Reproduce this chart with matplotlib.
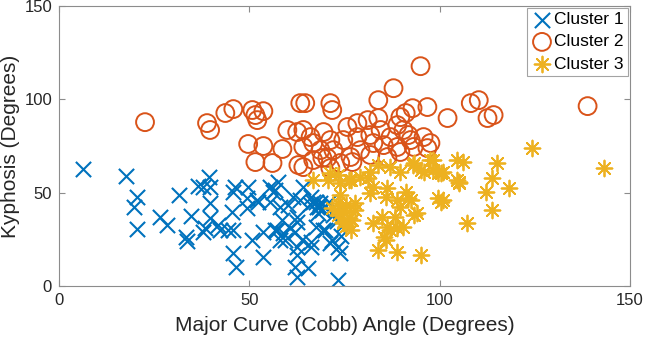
import matplotlib
matplotlib.use('Agg')
from matplotlib import pyplot as plt

# Cluster 1 (blue crosses)
c1_x = [6.3, 17.6, 20.5, 19.7, 20.5, 26.6, 28.4, 31.6, 34.7, 33.4, 33.7, 36.6, 37.9, 37.9,
        39.5, 39.7, 39.7, 39.7, 38.4, 41.8, 42.4, 44.5, 45.8, 45.5, 45.8, 45.8, 46.6, 49.7,
        49.5, 49.5, 53.7, 50.8, 53.7, 55.5, 57.6, 56.8, 52.4, 55.5, 58.2, 60.3, 58.7, 56.8,
        58.9, 60.8, 58.2, 62.6, 63.4, 64.2, 63.9, 66.1, 66.1, 62.1, 62.6, 65.5, 66.1, 66.8,
        67.9, 68.7, 67.4, 69.5, 71.8, 73.2, 73.9, 73.2, 52.1, 56.3, 61.6, 69.2, 62.6, 59.5,
        57.4, 62.1, 70.0, 62.6, 71.3, 62.6, 46.3, 68.2, 67.4,
        66.0, 69.0, 70.0, 71.0, 68.0, 72.0, 73.0, 75.0, 74.0]
c1_y = [62.7, 58.9, 47.7, 42.3, 30.5, 37.0, 32.7, 48.7, 37.5, 26.2, 24.1, 53.6, 53.0, 28.9,
        58.4, 53.0, 44.5, 36.4, 31.1, 32.7, 30.0, 30.0, 50.3, 39.6, 30.0, 17.7, 10.2, 53.0,
        47.1, 41.8, 28.9, 24.6, 15.5, 53.0, 55.7, 51.4, 45.0, 45.0, 42.3, 43.4, 35.4, 30.0,
        28.4, 31.1, 24.6, 34.3, 46.1, 53.0, 24.6, 23.6, 20.9, 10.2, 4.8, 9.6, 47.7, 45.0,
        42.3, 44.5, 31.6, 30.0, 24.6, 20.9, 17.7, 3.2, 46.1, 50.3, 47.7, 40.7, 37.0, 24.6,
        30.0, 28.9, 30.0, 20.9, 23.0, 16.6, 53.0, 42.3, 45.0,
        44.0, 41.0, 43.0, 45.0, 39.0, 38.0, 35.0, 33.0, 27.0]

# Cluster 2 (orange circles)
c2_x = [22.6, 38.9, 39.7, 43.7, 45.8, 50.8, 51.6, 53.7, 52.1, 49.7, 53.7, 58.7, 60.0, 62.6,
        63.4, 64.7, 71.3, 71.8, 83.9, 87.9, 95.0, 92.9, 96.8, 102.1, 108.2, 110.3, 112.6, 138.9,
        89.7, 88.9, 83.9, 81.1, 78.4, 75.8, 64.2, 66.1, 69.5, 71.3, 74.7, 78.4, 81.8, 84.5,
        87.1, 90.5, 92.4, 95.8, 97.6, 96.8, 82.6, 85.3, 88.9, 66.8, 64.2, 68.7, 72.1, 79.2,
        81.8, 76.6, 73.9, 70.5, 66.8, 64.2, 71.3, 89.7, 86.3, 93.2, 91.1, 91.8, 51.6, 56.1,
        62.9, 69.2, 77.1, 114.2]
c2_y = [87.8, 87.3, 83.6, 92.7, 94.8, 94.3, 91.6, 93.7, 88.9, 76.1, 75.0, 73.4, 83.6, 82.5,
        98.0, 98.0, 98.0, 94.3, 99.6, 106.0, 117.8, 95.3, 95.9, 90.0, 98.0, 99.6, 90.0, 96.4,
        90.5, 86.2, 90.0, 88.9, 87.3, 85.2, 83.6, 79.8, 82.5, 78.2, 78.2, 79.8, 80.9, 83.6,
        79.8, 83.6, 78.2, 79.8, 76.6, 73.9, 76.6, 75.5, 74.5, 76.6, 74.5, 72.8, 72.8, 72.8,
        70.2, 69.1, 65.9, 68.6, 67.5, 63.7, 63.2, 71.8, 69.1, 74.5, 92.7, 80.9, 66.4, 65.9,
        64.8, 68.6, 66.4, 91.6]

# Cluster 3 (yellow asterisks)
c3_x = [106.1, 115.0, 124.2, 143.2, 100.8, 105.0, 113.9, 112.1, 118.2, 100.8, 113.9, 107.1,
        66.8, 71.3, 73.9, 76.6, 79.2, 81.8, 83.7, 87.1, 89.7, 92.9, 95.0, 98.4, 99.7, 104.7,
        104.7, 71.8, 73.2, 73.9, 76.1, 74.7, 76.6, 77.9, 82.4, 86.3, 85.8, 91.1, 91.8, 88.9,
        89.7, 93.2, 88.4, 86.3, 88.9, 82.4, 85.3, 83.7, 88.9, 95.0, 99.5, 100.3, 105.0, 70.8,
        73.2, 76.1, 81.1, 95.8, 92.4, 74.7, 77.9, 74.5, 85.0, 90.3, 87.1, 85.8, 94.2, 81.8,
        93.2, 97.6, 100.3, 98.4, 75.3, 73.4, 75.5, 77.1, 73.9]
c3_y = [66.4, 65.9, 73.9, 63.2, 61.1, 55.7, 57.8, 50.3, 52.5, 46.1, 40.7, 33.7,
        56.8, 60.5, 55.2, 56.8, 58.4, 61.1, 64.8, 63.7, 61.1, 64.8, 62.1, 67.5, 60.5, 67.5,
        56.8, 41.8, 44.5, 39.1, 36.4, 33.7, 30.0, 44.5, 53.0, 52.5, 47.7, 50.3, 47.1, 46.1,
        42.3, 38.0, 37.0, 31.6, 31.1, 33.7, 26.2, 19.3, 18.2, 16.6, 47.1, 45.0, 55.2, 56.8,
        59.5, 56.8, 57.8, 61.1, 46.1, 39.6, 40.7, 34.3, 37.0, 31.6, 30.0, 24.6, 39.1, 49.8,
        65.9, 67.5, 60.5, 62.1, 43.4, 38.0, 32.1, 35.4, 48.7]

plt.rcParams['font.family'] = ['Liberation Sans', 'DejaVu Sans']

fig = plt.figure(figsize=(6.45, 3.4), dpi=100)
ax = fig.add_axes([0.0915, 0.159, 0.885, 0.823])

ax.scatter(c1_x, c1_y, marker='x', s=120, c='#0072BD', linewidths=1.5, label='Cluster 1')
ax.scatter(c2_x, c2_y, marker='o', s=165, facecolors='none', edgecolors='#D95319',
           linewidths=1.4, label='Cluster 2')
ax.scatter(c3_x, c3_y, marker=(8, 2, 0), s=130, c='#EDB120', linewidths=1.3, label='Cluster 3')

ax.set_xlim(0, 150)
ax.set_ylim(0, 150)
ax.set_xticks([0, 50, 100, 150])
ax.set_yticks([0, 50, 100, 150])
ax.tick_params(direction='in', length=4, width=0.8, colors='#262626', labelsize=12,
               top=True, right=True, color='#8c8c8c', pad=5)
for sp in ax.spines.values():
    sp.set_color('#8c8c8c')
    sp.set_linewidth(0.8)

ax.set_xlabel('Major Curve (Cobb) Angle (Degrees)', fontsize=15, color='#262626', labelpad=6)
ax.set_ylabel('Kyphosis (Degrees)', fontsize=15, color='#262626', labelpad=3)

leg = ax.legend(loc='upper right', fontsize=12.5, frameon=True, fancybox=False,
                handletextpad=0.1, borderpad=0.25, labelspacing=0.4, handlelength=1.2,
                borderaxespad=0.1, scatterpoints=1)
leg.get_frame().set_edgecolor('#8c8c8c')
leg.get_frame().set_linewidth(0.8)

fig.savefig('out.png', dpi=100)
